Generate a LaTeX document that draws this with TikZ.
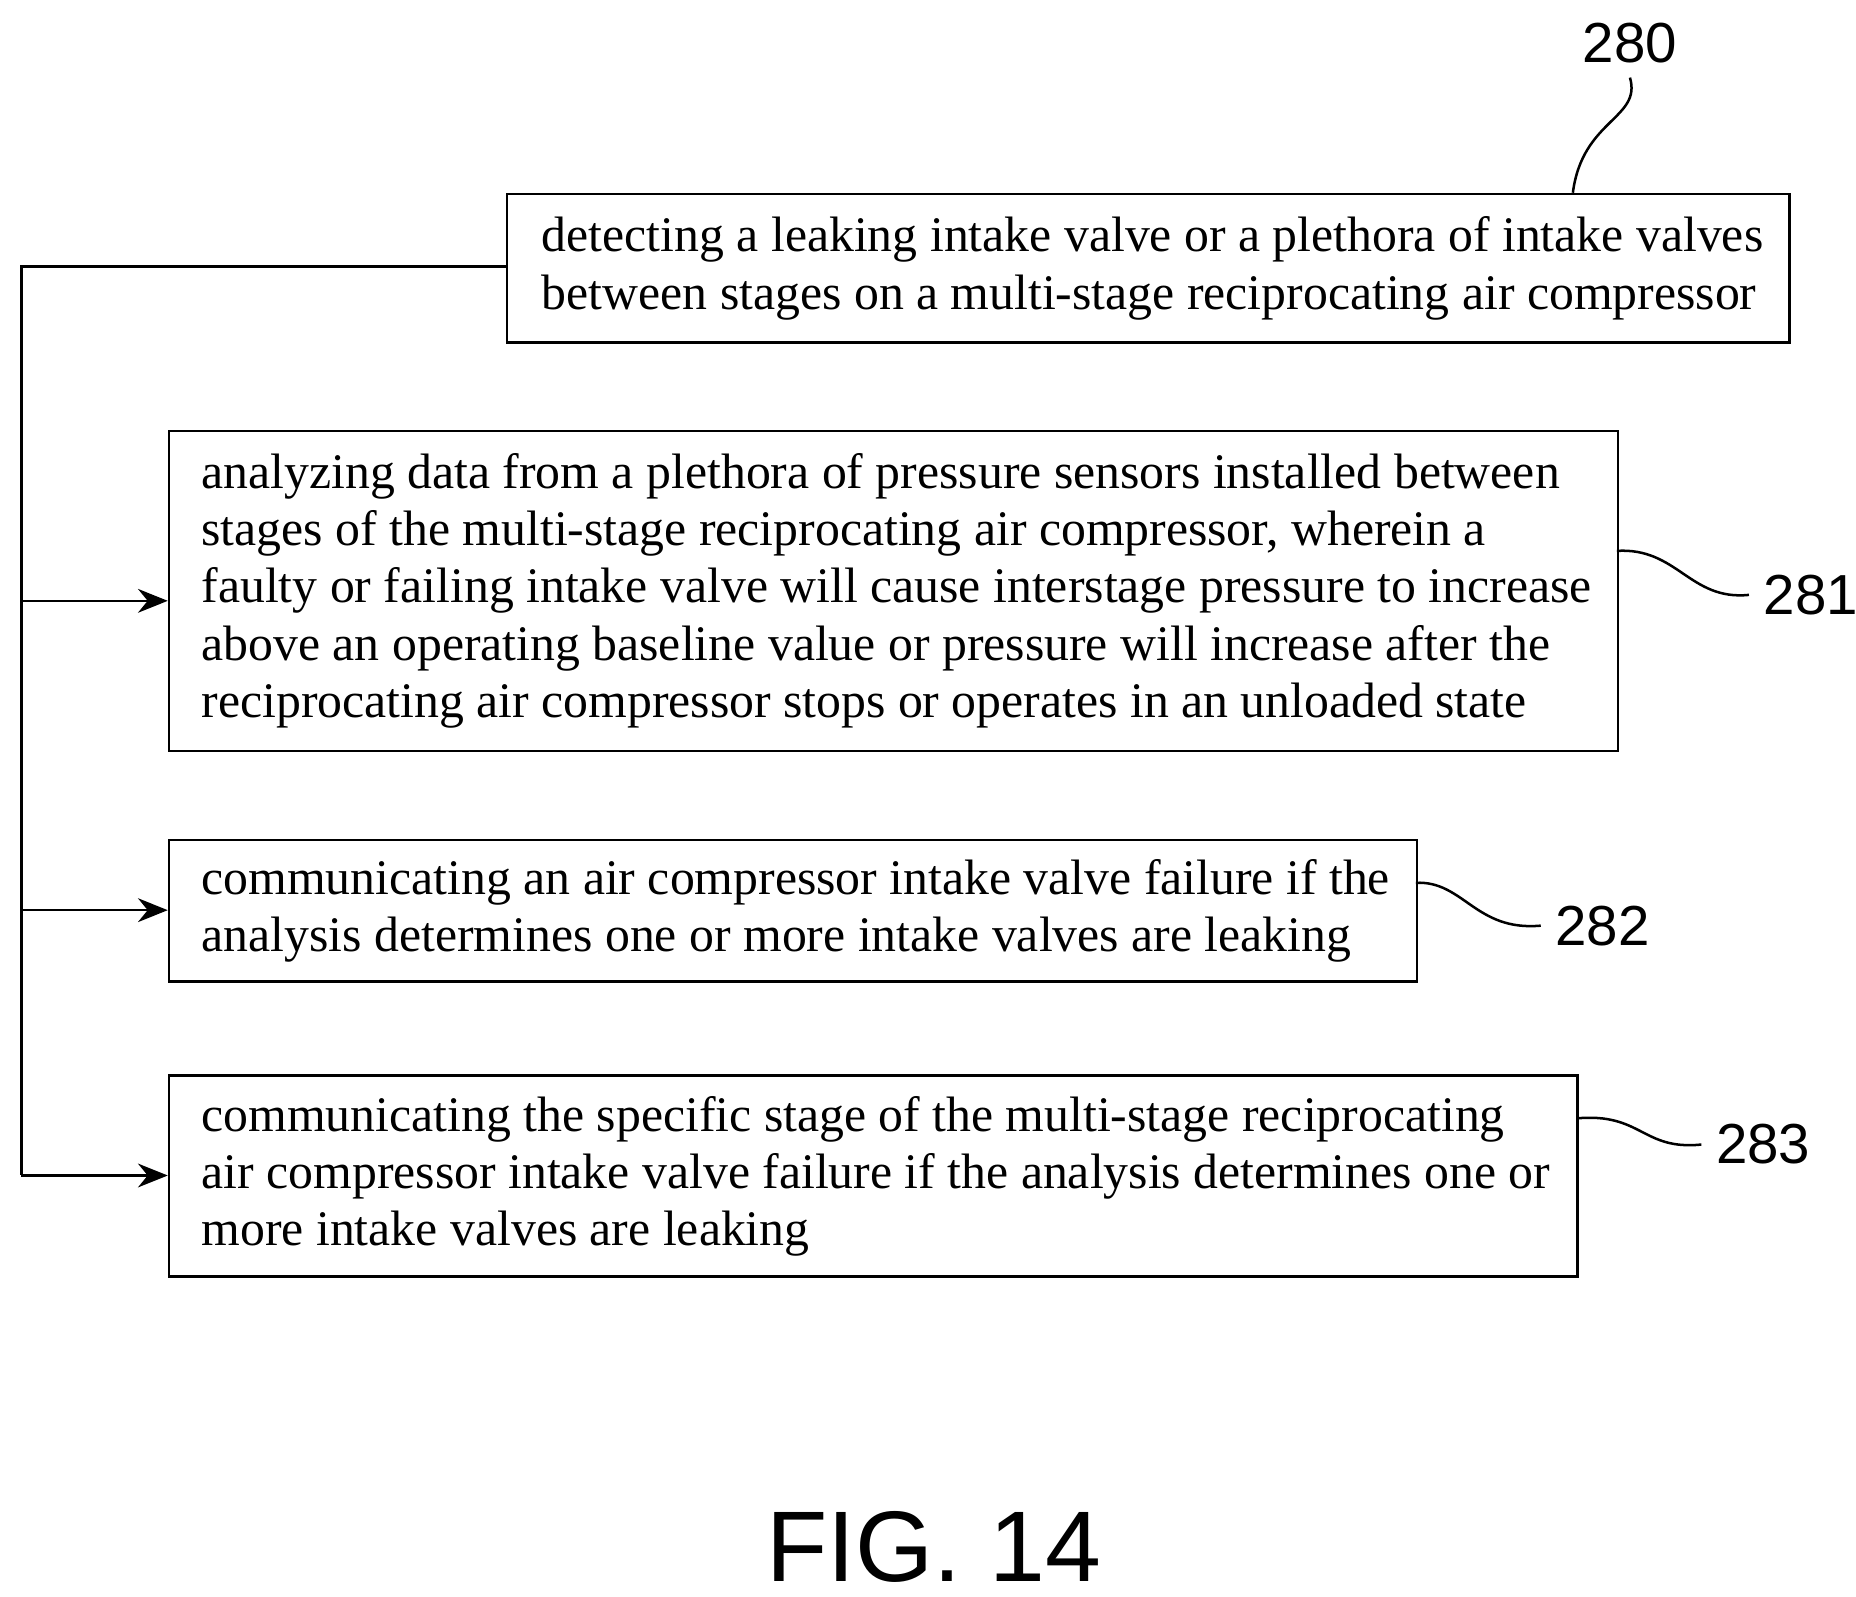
\documentclass[tikz,border=0pt]{standalone}
\usepackage{fontspec}
\setmainfont{Liberation Serif}
\setsansfont{Liberation Sans}
\usetikzlibrary{positioning}
\usetikzlibrary{arrows.meta}
\begin{document}
\begin{tikzpicture}[
        stepbox/.style={rectangle, draw, semithick, anchor=north west, inner sep=0pt},
        steptext/.style={anchor=west, align=left, font=\fontsize{11.9}{13.7}\selectfont},
        reflabel/.style={font=\sffamily\fontsize{13.5}{13.5}\selectfont},
        flow/.style={semithick, -{Stealth[length=2.5mm, width=2mm]}},
    ]
    \useasboundingbox (0,0) rectangle (15.6,-13.42);
    % Boxes
    \node[stepbox, minimum width=10.78cm, minimum height=1.25cm] (step280) at (4.25,-1.62) {};
    \node[steptext] (text280) at ([xshift=0.18cm]step280.west)
        {detecting a leaking intake valve or a plethora of intake valves\\between stages on a multi-stage reciprocating air compressor};

    \node[stepbox, minimum width=12.18cm, minimum height=2.69cm] (step281) at (1.41,-3.61) {};
    \node[steptext] (text281) at ([xshift=0.16cm]step281.west)
        {analyzing data from a plethora of pressure sensors installed between\\stages of the multi-stage reciprocating air compressor, wherein a\\faulty or failing intake valve will cause interstage pressure to increase\\above an operating baseline value or pressure will increase after the\\reciprocating air compressor stops or operates in an unloaded state};

    \node[stepbox, minimum width=10.49cm, minimum height=1.19cm] (step282) at (1.41,-7.05) {};
    \node[steptext] (text282) at ([xshift=0.16cm]step282.west)
        {communicating an air compressor intake valve failure if the\\analysis determines one or more intake valves are leaking};

    \node[stepbox, minimum width=11.84cm, minimum height=1.69cm] (step283) at (1.41,-9.03) {};
    \node[steptext] (text283) at ([xshift=0.16cm]step283.west)
        {communicating the specific stage of the multi-stage reciprocating\\air compressor intake valve failure if the analysis determines one or\\more intake valves are leaking};

    % Reference numerals
    \node[reflabel] (num280) at (13.7,-0.36) {280};
    \node[reflabel, anchor=west] (num281) at (14.7,-5.0) {281};
    \node[reflabel, anchor=west] (num282) at (12.95,-7.78) {282};
    \node[reflabel, anchor=west] (num283) at (14.3,-9.62) {283};

    % Leaders
    \coordinate (lead280) at (13.22,-1.62);
    \coordinate (lead281) at (13.59,-4.63);
    \coordinate (lead282) at (11.90,-7.42);
    \coordinate (lead283) at (13.25,-9.40);
    \draw[semithick] (lead280) .. controls (13.3,-1.0) and (13.8,-1.0) .. (num280.south);
    \draw[semithick] (lead281) .. controls (14.1,-4.6) and (14.2,-5.05) .. (num281.west);
    \draw[semithick] (lead282) .. controls (12.3,-7.4) and (12.4,-7.83) .. (num282.west);
    \draw[semithick] (lead283) .. controls (13.8,-9.35) and (13.8,-9.67) .. (num283.west);

    % Lines
    \coordinate (trunk) at (0.18,-2.24);
    \draw[semithick] (step280.west |- trunk) -- (trunk) -- (trunk |- 0,-9.88);
    \draw[flow] (trunk |- 0,-5.05) -- (step281.west |- 0,-5.05);
    \draw[flow] (trunk |- 0,-7.65) -- (step282.west |- 0,-7.65);
    \draw[flow] (trunk |- 0,-9.88) -- (step283.west |- 0,-9.88);

    \node[font=\sffamily\fontsize{24}{24}\selectfont] (fig) at (7.85,-13.0) {FIG. 14};
\end{tikzpicture}
\end{document}
